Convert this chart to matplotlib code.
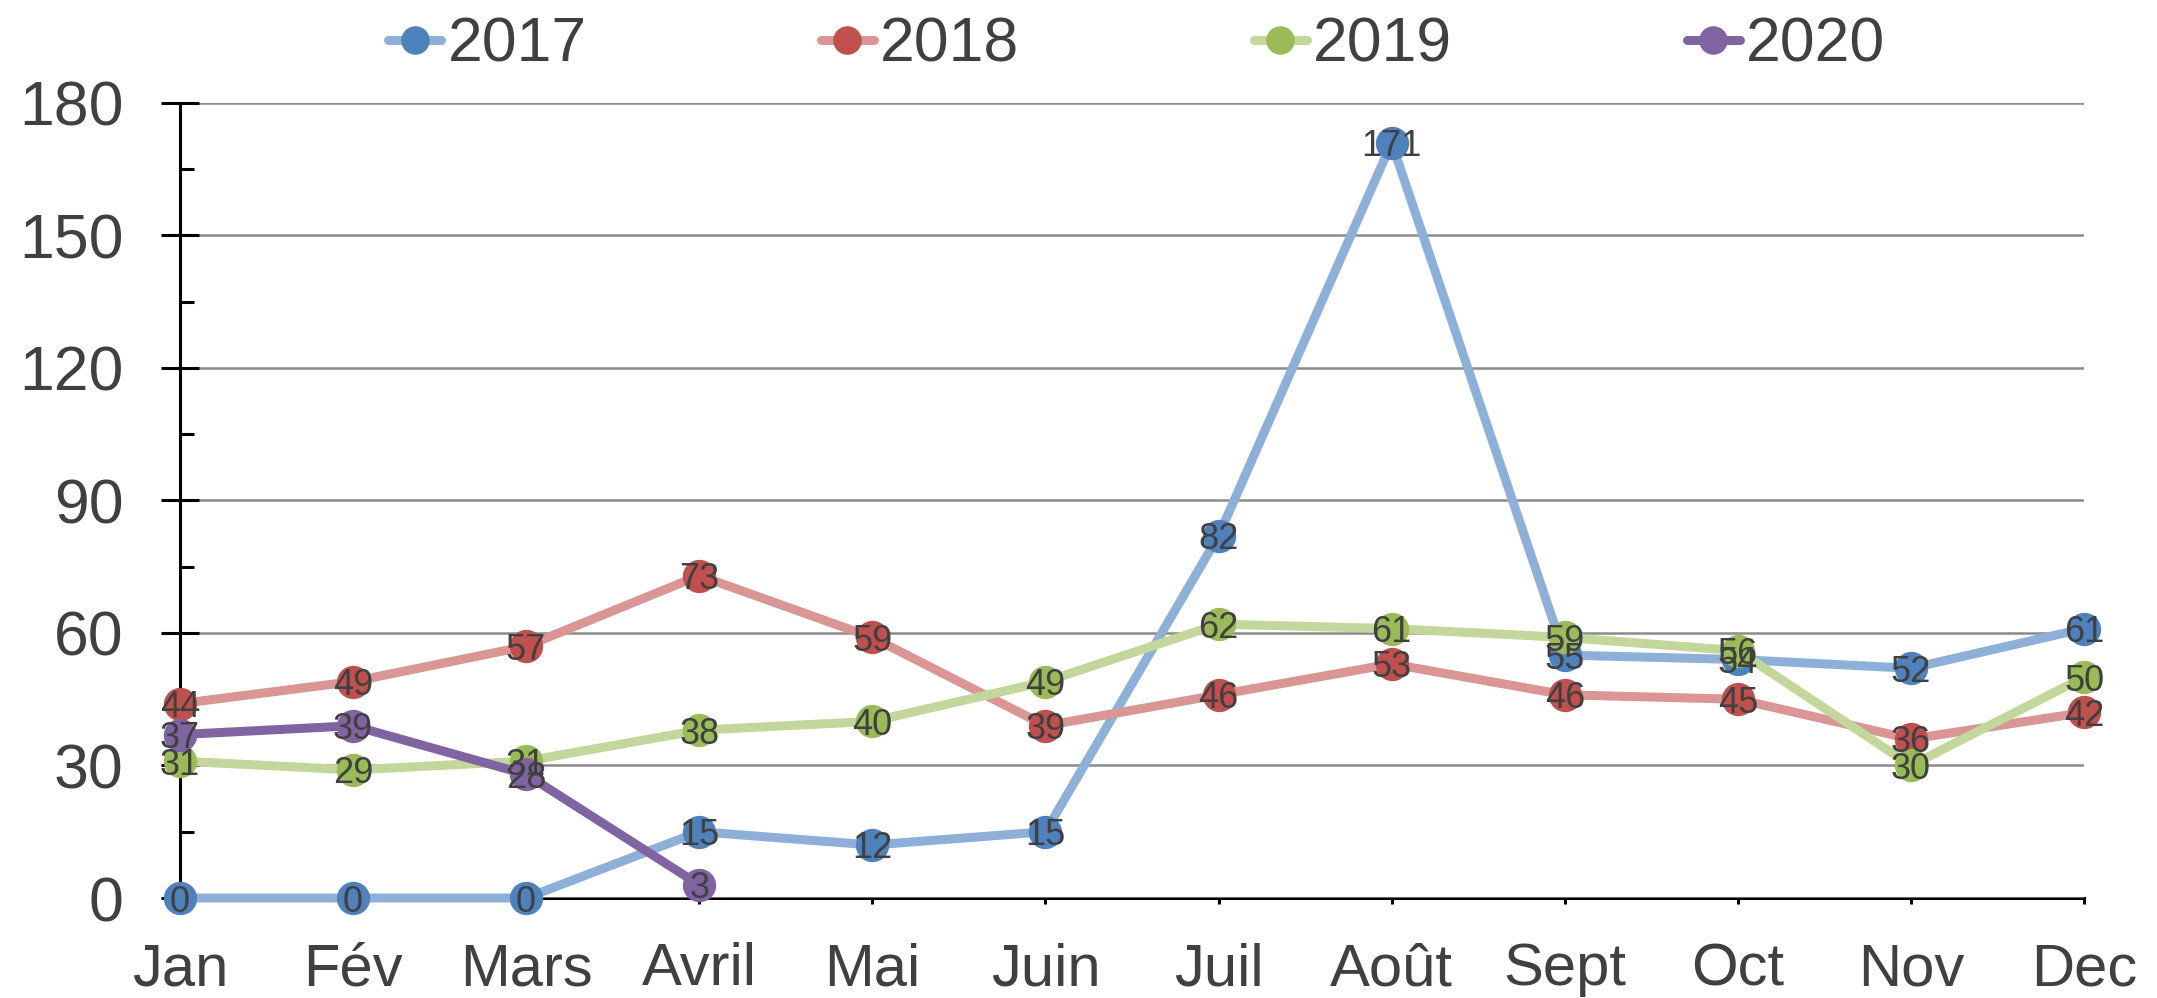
import numpy as np
import matplotlib
matplotlib.use("Agg")
import matplotlib.pyplot as plt
from matplotlib.ticker import MultipleLocator

months = ["Jan", "Fév", "Mars", "Avril", "Mai", "Juin", "Juil", "Août",
          "Sept", "Oct", "Nov", "Dec"]
y2017 = [0, 0, 0, 15, 12, 15, 82, 171, 55, 54, 52, 61]
y2018 = [44, 49, 57, 73, 59, 39, 46, 53, 46, 45, 36, 42]
y2019 = [31, 29, 31, 38, 40, 49, 62, 61, 59, 56, 30, 50]
y2020 = [37, 39, 28, 3]

series = [
    ("2017", y2017, "#8eb0d8", "#4f81bd"),
    ("2018", y2018, "#d99694", "#c0504d"),
    ("2019", y2019, "#c3d69b", "#9bbb59"),
    ("2020", y2020, "#8064a2", "#8064a2"),
]

plt.rcParams['font.family'] = ['Liberation Sans', 'DejaVu Sans']
text_col = "#404040"

fig = plt.figure(figsize=(21.57, 9.98), dpi=100)
ax = fig.add_axes([0.0834, 0.1002, 0.8828, 0.7966])

x = np.arange(len(months))
for name, vals, lc, mc in series:
    xs = x[:len(vals)]
    ax.plot(xs, vals, color=lc, lw=6.5, marker="o", ms=23,
            markerfacecolor=mc, markeredgecolor=mc, label=name,
            solid_capstyle="round", zorder=3, clip_on=False)

# data labels centred on the markers
for name, vals, lc, mc in series:
    for xi, v in zip(x, vals):
        ax.text(xi, v, str(v), ha="center", va="center_baseline",
                fontsize=26, color=text_col, zorder=5)

ax.set_xlim(0, 11)
ax.set_ylim(0, 180)
ax.yaxis.set_major_locator(MultipleLocator(30))
ax.yaxis.set_minor_locator(MultipleLocator(15))
ax.set_xticks(x)
ax.set_xticklabels(months)
ax.grid(axis="y", which="major", color="#8a8a8a", lw=1.8, zorder=0)

for s in ["top", "right"]:
    ax.spines[s].set_visible(False)
ax.spines["left"].set_linewidth(2.2)
ax.spines["bottom"].set_linewidth(2.2)
ax.spines["left"].set_zorder(1)
ax.spines["bottom"].set_zorder(1)

ax.tick_params(axis="y", which="major", direction="inout", length=27,
               width=2.2, labelsize=45, labelcolor=text_col, pad=27)
ax.tick_params(axis="y", which="minor", direction="in", length=10, width=2.2)
ax.tick_params(axis="x", which="major", direction="out", length=4,
               width=2.2, labelsize=43, labelcolor=text_col, pad=28)

fig.legend(loc="center", bbox_to_anchor=(0.527, 0.955), ncol=4,
           frameon=False, fontsize=45, handlelength=0.85, handletextpad=0.1,
           columnspacing=3.75, markerscale=0.85, labelcolor=text_col)

fig.savefig("out.png", dpi=100)
